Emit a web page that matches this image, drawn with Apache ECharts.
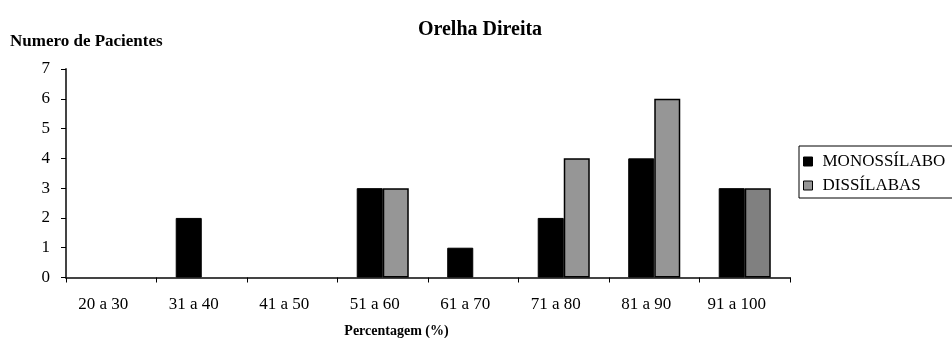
<!DOCTYPE html>
<html>
<head>
<meta charset="utf-8">
<script src="https://cdn.jsdelivr.net/npm/echarts@6/dist/echarts.min.js"></script>
<style>
html,body{margin:0;padding:0;background:#fff;}
#chart{width:952px;height:338px;}
</style>
</head>
<body>
<div id="chart"></div>
<script>
// Faixas de percentagem e número de pacientes por tipo de lista
const categories = ['20 a 30', '31 a 40', '41 a 50', '51 a 60', '61 a 70', '71 a 80', '81 a 90', '91 a 100'];
const monossilabo = [0, 2, 0, 3, 1, 2, 4, 3];
const dissilabas = [0, 0, 0, 3, 0, 4, 6, 3];
const yTicks = [0, 1, 2, 3, 4, 5, 6, 7];

const serif = '"Liberation Serif", "Times New Roman", serif';
const chart = echarts.init(document.getElementById('chart'));

// barras de valor zero ficam sem contorno
const asBars = (values, extra) => values.map((v, i) => {
  const item = { value: v };
  if (v === 0) item.itemStyle = { borderWidth: 0 };
  if (extra && extra[i]) item.itemStyle = Object.assign({}, item.itemStyle, extra[i]);
  return item;
});

chart.setOption({
  animation: false,
  backgroundColor: '#ffffff',
  title: {
    text: 'Orelha Direita',
    left: 475, top: 15, textAlign: 'center',
    textStyle: { fontFamily: serif, fontSize: 20, fontWeight: 'bold', color: '#000' }
  },
  legend: {
    orient: 'vertical',
    left: 799, top: 146,
    padding: [7, 12, 4, 4],
    itemGap: 7,
    itemWidth: 9, itemHeight: 9,
    borderColor: '#000', borderWidth: 1,
    icon: 'rect',
    textStyle: { fontFamily: serif, fontSize: 17, color: '#000', padding: [0, 0, 0, 5] },
    data: [
      { name: 'MONOSSÍLABO', itemStyle: { color: '#000', borderColor: '#000', borderWidth: 1 } },
      { name: 'DISSÍLABAS', itemStyle: { color: '#969696', borderColor: '#000', borderWidth: 1 } }
    ]
  },
  grid: { left: 66, right: 162, top: 69, bottom: 60.5, outerBoundsMode: 'none', containLabel: false },
  xAxis: {
    type: 'category',
    data: categories,
    offset: 3.5,
    name: 'Percentagem (%)',
    nameLocation: 'middle',
    nameGap: 43,
    nameTextStyle: { fontFamily: serif, fontSize: 14, fontWeight: 'bold', color: '#000', padding: [0, 63, 0, 0], verticalAlign: 'top' },
    axisLine: { lineStyle: { color: '#444', width: 2 } },
    axisTick: { show: true, alignWithLabel: false, length: 5, lineStyle: { color: '#000' } },
    axisLabel: { fontFamily: serif, fontSize: 17, color: '#000', margin: 15, padding: [0, 16, 0, 0] }
  },
  yAxis: {
    type: 'value',
    min: 0, max: 7, interval: 1,
    name: 'Numero de Pacientes',
    nameLocation: 'end',
    nameGap: 19,
    nameTextStyle: { fontFamily: serif, fontSize: 17, fontWeight: 'bold', color: '#000', align: 'left', padding: [0, 0, 0, -56] },
    axisLine: { show: true, lineStyle: { color: '#444', width: 2 } },
    axisTick: { show: true, length: 5, lineStyle: { color: '#000' } },
    axisLabel: {
      fontFamily: serif, fontSize: 17, color: '#000', margin: 16,
      formatter: v => yTicks.includes(v) ? String(v) : ''
    },
    splitLine: {
      show: true,
      lineStyle: { color: ['#b8b8b8', 'rgba(0,0,0,0)', 'rgba(0,0,0,0)', 'rgba(0,0,0,0)', 'rgba(0,0,0,0)', 'rgba(0,0,0,0)', 'rgba(0,0,0,0)', 'rgba(0,0,0,0)'], width: 1 }
    }
  },
  series: [
    {
      name: 'MONOSSÍLABO',
      type: 'bar',
      data: asBars(monossilabo),
      barGap: '0%',
      barCategoryGap: '42.5%',
      itemStyle: { color: '#000', borderColor: '#000', borderWidth: 1 }
    },
    {
      name: 'DISSÍLABAS',
      type: 'bar',
      data: asBars(dissilabas, { 7: { color: '#808080' } }),
      itemStyle: { color: '#969696', borderColor: '#000', borderWidth: 1.5 }
    }
  ]
});
</script>
</body>
</html>
